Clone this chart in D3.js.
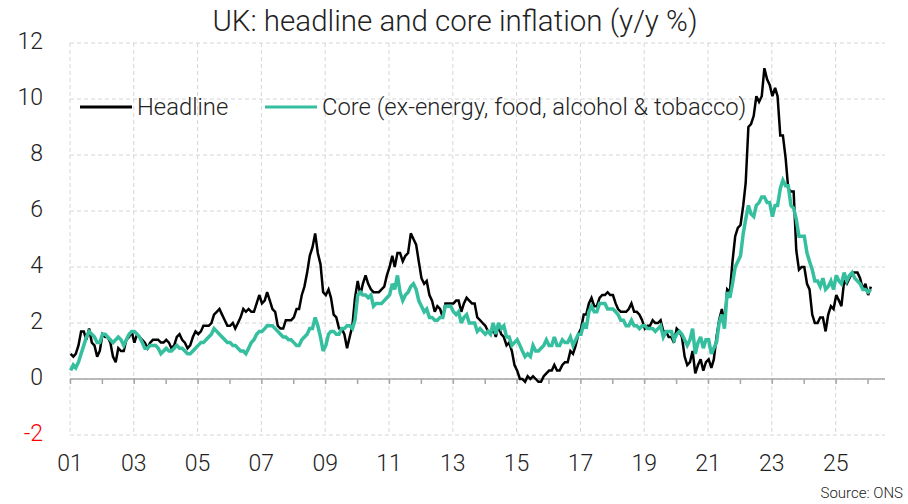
<!DOCTYPE html>
<html>
<head>
<meta charset="utf-8">
<script src="https://cdnjs.cloudflare.com/ajax/libs/d3/7.8.5/d3.min.js"></script>
<style>
    body { margin: 0; background: #ffffff; }
    text { font-family: Roboto, 'Liberation Sans', sans-serif; font-weight: 300; fill: #222222; }
</style>
</head>
<body>
<script>

// monthly data, first value is Jan 2001
var startYear = 2001

var headline = [
    0.9, 0.8, 0.9, 1.2, 1.7, 1.7, 1.4, 1.8, 1.3, 1.2, 0.8, 1.0,
    1.6, 1.5, 1.5, 1.3, 0.8, 0.6, 1.1, 1.0, 1.0, 1.4, 1.5, 1.7,
    1.3, 1.6, 1.5, 1.4, 1.3, 1.1, 1.3, 1.4, 1.4, 1.4, 1.3, 1.3,
    1.4, 1.3, 1.1, 1.2, 1.5, 1.6, 1.4, 1.3, 1.1, 1.2, 1.5, 1.7,
    1.6, 1.7, 1.9, 1.9, 1.9, 2.0, 2.3, 2.4, 2.5, 2.3, 2.1, 1.9,
    1.9, 2.0, 1.8, 2.0, 2.2, 2.5, 2.4, 2.5, 2.4, 2.4, 2.7, 3.0,
    2.7, 2.8, 3.1, 2.8, 2.5, 2.4, 1.9, 1.8, 1.8, 2.1, 2.1, 2.1,
    2.2, 2.5, 2.5, 3.0, 3.3, 3.8, 4.4, 4.7, 5.2, 4.5, 4.1, 3.1,
    3.0, 3.2, 2.9, 2.3, 2.2, 1.8, 1.8, 1.6, 1.1, 1.5, 1.9, 2.9,
    3.5, 3.0, 3.4, 3.7, 3.4, 3.2, 3.1, 3.1, 3.1, 3.2, 3.3, 3.7,
    4.0, 4.4, 4.0, 4.5, 4.5, 4.2, 4.4, 4.5, 5.2, 5.0, 4.8, 4.2,
    3.6, 3.4, 3.5, 3.0, 2.8, 2.4, 2.6, 2.5, 2.2, 2.7, 2.7, 2.7,
    2.7, 2.8, 2.8, 2.4, 2.7, 2.9, 2.8, 2.7, 2.7, 2.2, 2.1, 2.0,
    1.9, 1.7, 1.6, 1.8, 1.5, 1.9, 1.6, 1.5, 1.2, 1.3, 1.0, 0.5,
    0.3, 0.0, 0.0, -0.1, 0.1, 0.0, 0.1, 0.0, -0.1, -0.1, 0.1, 0.2,
    0.3, 0.3, 0.5, 0.3, 0.3, 0.5, 0.6, 0.6, 1.0, 0.9, 1.2, 1.6,
    1.8, 2.3, 2.3, 2.7, 2.9, 2.6, 2.6, 2.9, 3.0, 3.0, 3.1, 3.0,
    3.0, 2.7, 2.5, 2.4, 2.4, 2.4, 2.5, 2.7, 2.4, 2.4, 2.3, 2.1,
    1.8, 1.9, 1.9, 2.1, 2.0, 2.0, 2.1, 1.7, 1.7, 1.5, 1.5, 1.3,
    1.8, 1.7, 1.5, 0.8, 0.5, 0.6, 1.0, 0.2, 0.5, 0.7, 0.3, 0.6,
    0.7, 0.4, 0.7, 1.5, 2.1, 2.5, 2.0, 3.2, 3.1, 4.2, 5.1, 5.4,
    5.5, 6.2, 7.0, 9.0, 9.1, 9.4, 10.1, 9.9, 10.1, 11.1, 10.7, 10.5,
    10.1, 10.4, 10.1, 8.7, 8.7, 7.9, 6.8, 6.7, 6.7, 4.6, 3.9, 4.0,
    4.0, 3.4, 3.2, 2.3, 2.0, 2.0, 2.2, 2.2, 1.7, 2.3, 2.6, 2.5,
    3.0, 2.8, 2.6, 3.5, 3.4, 3.6, 3.8, 3.8, 3.8, 3.6, 3.2, 3.4,
    3.0, 3.3
]

var core = [
    0.3, 0.5, 0.4, 0.6, 0.9, 1.2, 1.5, 1.7, 1.6, 1.5, 1.3, 1.3,
    1.6, 1.6, 1.5, 1.4, 1.3, 1.4, 1.5, 1.4, 1.2, 1.4, 1.6, 1.7,
    1.7, 1.6, 1.5, 1.3, 1.1, 1.1, 1.2, 1.2, 1.2, 1.1, 0.9, 1.0,
    1.1, 1.0, 1.0, 1.1, 1.2, 1.1, 1.1, 1.0, 0.9, 0.9, 1.0, 1.1,
    1.2, 1.3, 1.3, 1.4, 1.5, 1.6, 1.8, 1.7, 1.6, 1.5, 1.4, 1.3,
    1.3, 1.2, 1.2, 1.1, 1.0, 1.0, 0.9, 1.1, 1.3, 1.4, 1.6, 1.7,
    1.7, 1.8, 1.9, 1.9, 1.9, 1.8, 1.7, 1.6, 1.5, 1.5, 1.4, 1.4,
    1.3, 1.2, 1.2, 1.4, 1.5, 1.6, 1.8, 1.8, 2.2, 1.9, 1.5, 1.0,
    1.2, 1.6, 1.7, 1.7, 1.6, 1.6, 1.8, 1.8, 1.9, 1.9, 1.8, 2.1,
    3.0, 3.1, 3.0, 3.0, 2.9, 3.0, 2.6, 2.7, 2.7, 2.7, 2.8, 2.9,
    3.0, 3.4, 3.2, 3.7, 3.1, 2.8, 3.0, 3.1, 3.3, 3.4, 3.2, 2.8,
    2.6, 2.4, 2.5, 2.2, 2.2, 2.1, 2.1, 2.2, 2.2, 2.6, 2.6, 2.6,
    2.4, 2.3, 2.4, 2.0, 2.2, 2.3, 2.0, 2.0, 2.0, 1.7, 1.8, 1.7,
    1.6, 1.7, 1.6, 2.0, 1.6, 2.0, 1.8, 1.9, 1.5, 1.5, 1.2, 1.3,
    1.4, 1.2, 1.0, 0.8, 0.9, 0.8, 1.2, 1.0, 1.0, 1.1, 1.2, 1.4,
    1.2, 1.2, 1.5, 1.2, 1.2, 1.4, 1.3, 1.3, 1.5, 1.2, 1.4, 1.6,
    1.6, 2.0, 1.8, 2.4, 2.6, 2.4, 2.4, 2.7, 2.7, 2.7, 2.5, 2.5,
    2.5, 2.4, 2.3, 2.1, 2.1, 1.9, 1.9, 2.1, 1.9, 1.9, 1.8, 1.9,
    1.9, 1.8, 1.8, 1.8, 1.7, 1.8, 1.9, 1.5, 1.7, 1.7, 1.7, 1.4,
    1.6, 1.7, 1.6, 1.4, 1.2, 1.4, 1.8, 0.9, 1.3, 1.5, 1.1, 1.4,
    1.4, 0.9, 1.1, 1.3, 2.0, 2.3, 1.8, 3.1, 2.9, 3.4, 4.0, 4.2,
    4.4, 5.2, 5.7, 6.2, 5.9, 5.8, 6.2, 6.3, 6.5, 6.5, 6.3, 6.3,
    5.8, 6.2, 6.2, 6.8, 7.1, 6.9, 6.9, 6.2, 6.1, 5.7, 5.1, 5.1,
    5.1, 4.5, 4.2, 3.9, 3.5, 3.5, 3.3, 3.6, 3.2, 3.3, 3.5, 3.2,
    3.7, 3.5, 3.4, 3.8, 3.5, 3.7, 3.8, 3.6, 3.5, 3.4, 3.2, 3.2,
    3.1, 3.2
]

var seriesNames = ['Headline', 'Core (ex-energy, food, alcohol & tobacco)']
var seriesColors = ['#000000', '#35bf9f']
var yTicks = [-2, 0, 2, 4, 6, 8, 10, 12]
var xLabelYears = [2001, 2003, 2005, 2007, 2009, 2011, 2013, 2015, 2017, 2019, 2021, 2023, 2025]
var chartTitle = 'UK: headline and core inflation (y/y %)'
var sourceText = 'Source: ONS'

var width = 908
var height = 504
var plotLeft = 70
var plotRight = 885
var plotTop = 43
var plotBottom = 435

var svg = d3.select('body')
                .append('svg')
                    .attr('width', width)
                    .attr('height', height)

function monthDate(i) {
    return new Date(startYear + Math.floor(i / 12), i % 12, 8)
}

var xscale = d3.scaleTime()
                .domain([new Date(2001, 0, 1), new Date(2026, 6, 20)])
                .range([plotLeft, plotRight])

var yscale = d3.scaleLinear()
                .domain([-2, 12])
                .range([plotBottom, plotTop])

// grid
svg.append('g')
        .selectAll('line')
        .data(yTicks)
        .enter()
            .append('line')
                .attr('x1', plotLeft)
                .attr('x2', plotRight)
                .attr('y1', d => yscale(d))
                .attr('y2', d => yscale(d))
                .attr('stroke', '#d6d6d6')
                .attr('stroke-width', 1)
                .attr('stroke-dasharray', '4,3')

svg.append('g')
        .selectAll('line')
        .data(xLabelYears)
        .enter()
            .append('line')
                .attr('x1', d => xscale(new Date(d, 0, 1)))
                .attr('x2', d => xscale(new Date(d, 0, 1)))
                .attr('y1', plotTop)
                .attr('y2', plotBottom)
                .attr('stroke', '#d6d6d6')
                .attr('stroke-width', 1)
                .attr('stroke-dasharray', '4,3')

// zero axis with yearly ticks
var yearTicks = d3.range(2001, 2027).map(y => new Date(y, 0, 1))
var x_axis = d3.axisBottom()
                .scale(xscale)
                .tickValues(yearTicks)
                .tickSize(5)
                .tickFormat('')

var axisG = svg.append('g')
                .attr('transform', 'translate(0, ' + yscale(0) + ')')
                .call(x_axis)
axisG.select('.domain')
        .attr('stroke', '#a6a6a6')
        .attr('stroke-width', 1.5)
        .attr('d', 'M' + plotLeft + ',0H' + plotRight)
axisG.selectAll('.tick line')
        .attr('stroke', '#a6a6a6')
        .attr('stroke-width', 1.5)

// y labels
svg.append('g')
        .selectAll('text')
        .data(yTicks)
        .enter()
            .append('text')
                .attr('x', 43)
                .attr('y', d => yscale(d) + 6)
                .attr('text-anchor', 'end')
                .style('font-size', '23px')
                .style('fill', d => d < 0 ? '#ff0000' : '#222222')
                .text(d => d)

// x labels
svg.append('g')
        .selectAll('text')
        .data(xLabelYears)
        .enter()
            .append('text')
                .attr('x', d => xscale(new Date(d, 0, 1)))
                .attr('y', 471)
                .attr('text-anchor', 'middle')
                .style('font-size', '23px')
                .text(d => String(d % 100).padStart(2, '0'))

// lines
var line = d3.line()
                .x((d, i) => xscale(monthDate(i)))
                .y(d => yscale(d))

var allSeries = [headline, core]
var widths = [2.5, 3.5]
allSeries.forEach(function(s, k) {
    svg.append('path')
            .datum(s)
            .attr('d', line)
            .attr('fill', 'none')
            .attr('stroke', seriesColors[k])
            .attr('stroke-width', widths[k])
            .attr('stroke-linejoin', 'miter')
            .attr('stroke-miterlimit', 3)
})

// legend
var legendX = [80, 265]
seriesNames.forEach(function(name, k) {
    svg.append('line')
            .attr('x1', legendX[k])
            .attr('x2', legendX[k] + 52)
            .attr('y1', 107)
            .attr('y2', 107)
            .attr('stroke', seriesColors[k])
            .attr('stroke-width', 3)
    svg.append('text')
            .attr('x', legendX[k] + 57)
            .attr('y', 115)
            .style('font-size', '23.8px')
            .text(name)
})

// title and source
svg.append('text')
        .attr('x', 455)
        .attr('y', 31)
        .attr('text-anchor', 'middle')
        .style('font-size', '29.5px')
        .text(chartTitle)

svg.append('text')
        .attr('x', 903)
        .attr('y', 498)
        .attr('text-anchor', 'end')
        .style('font-size', '15px')
        .text(sourceText)

</script>
</body>
</html>
